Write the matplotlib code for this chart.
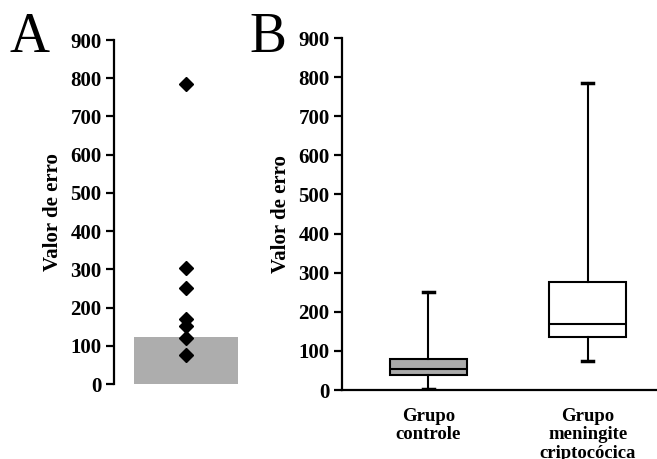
import matplotlib
matplotlib.use("Agg")
from matplotlib import pyplot as plt

plt.rcParams['font.family'] = ['Liberation Serif', 'DejaVu Serif']
plt.rcParams['font.weight'] = 'bold'

# --- Painel A: valores individuais + faixa de referência ---
valores_a = [785, 304, 250, 170, 152, 120, 75]
limite_a = 122

# --- Painel B: estatísticas dos boxplots ---
grupos = ['Grupo\ncontrole', 'Grupo\nmeningite\ncriptocócica']
minimos = [3, 74]
q1 = [38, 135]
medianas = [54, 168]
q3 = [79, 276]
maximos = [250, 786]
cores_caixa = ['#aaaaaa', 'white']

yticks = [0, 100, 200, 300, 400, 500, 600, 700, 800, 900]

fig = plt.figure(figsize=(6.57, 4.59), dpi=100)

def estilo(ax):
    ax.set_ylim(0, 900)
    ax.set_yticks(yticks)
    ax.tick_params(axis='y', direction='out', length=6, width=1.6,
                   labelsize=15, pad=3)
    for lab in ax.get_yticklabels():
        lab.set_fontweight('bold')
    ax.spines['left'].set_linewidth(1.6)
    ax.spines['top'].set_visible(False)
    ax.spines['right'].set_visible(False)
    ax.set_ylabel('Valor de erro', fontsize=15, fontweight='bold', labelpad=5)

# Painel A
axA = fig.add_axes([114 / 657, 1 - 384 / 459, 136 / 657, 344 / 459])
estilo(axA)
axA.spines['bottom'].set_visible(False)
axA.set_xlim(0, 1)
axA.set_xticks([])
axA.bar([0.53], [limite_a], width=0.765, color='#adadad', zorder=1)
axA.plot([0.53] * len(valores_a), valores_a, 'D', color='black',
         markersize=7.5, zorder=3)

# Painel B
axB = fig.add_axes([342 / 657, 1 - 390 / 459, 315 / 657, 352 / 459])
estilo(axB)
axB.spines['bottom'].set_linewidth(1.6)
axB.set_xlim(0.457, 2.436)
stats = []
for i in range(len(grupos)):
    stats.append(dict(whislo=minimos[i], q1=q1[i], med=medianas[i],
                      q3=q3[i], whishi=maximos[i], fliers=[]))
bp = axB.bxp(stats, positions=[1, 2], widths=0.48, capwidths=0.07,
             patch_artist=True, showfliers=False,
             boxprops=dict(linewidth=1.5, edgecolor='black'),
             medianprops=dict(color='black', linewidth=1.5),
             whiskerprops=dict(color='black', linewidth=1.5),
             capprops=dict(color='black', linewidth=2.5))
for caixa, cor in zip(bp['boxes'], cores_caixa):
    caixa.set_facecolor(cor)
axB.set_xticks([1, 2])
axB.set_xticklabels(grupos, fontsize=13.5, fontweight='bold', linespacing=1.1)
axB.tick_params(axis='x', length=0, pad=13)

fig.text(10 / 657, 1 - 52 / 459, 'A', fontsize=40, fontweight='normal')
fig.text(249 / 657, 1 - 52 / 459, 'B', fontsize=40, fontweight='normal')

fig.savefig('out.png', dpi=100)
